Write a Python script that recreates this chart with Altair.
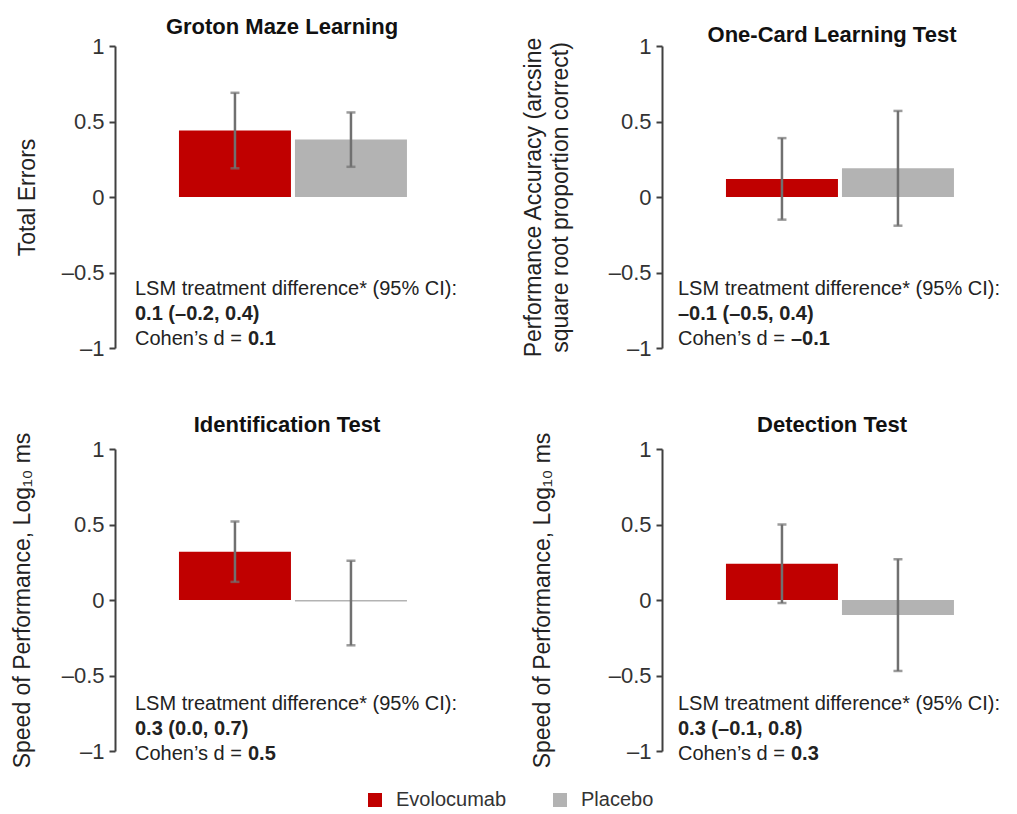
import altair as alt
import pandas as pd

FONT = "Liberation Sans"

# ---- data ----
panel_titles = ["Groton Maze Learning", "One-Card Learning Test",
                "Identification Test", "Detection Test"]
y_titles = ["Total Errors",
            ["Performance Accuracy (arcsine", "square root proportion correct)"],
            "Speed of Performance, Log\u2081\u2080 ms",
            "Speed of Performance, Log\u2081\u2080 ms"]
groups = ["Evolocumab", "Placebo"]
evo_mean = [0.44, 0.12, 0.32, 0.24]
evo_lo = [0.19, -0.15, 0.12, -0.02]
evo_hi = [0.69, 0.39, 0.52, 0.50]
pla_mean = [0.38, 0.19, -0.01, -0.10]
pla_lo = [0.20, -0.19, -0.30, -0.47]
pla_hi = [0.56, 0.57, 0.26, 0.27]
lsm_header = "LSM treatment difference* (95% CI):"
lsm_values = ["0.1 (\u20130.2, 0.4)", "\u20130.1 (\u20130.5, 0.4)",
              "0.3 (0.0, 0.7)", "0.3 (\u20130.1, 0.8)"]
cohen_label = "Cohen\u2019s d = "
cohen_values = ["0.1", "\u20130.1", "0.5", "0.3"]
y_ticks = [-1, -0.5, 0, 0.5, 1]

# ---- layout / style ----
W, H = 310, 302
title_x = [-76, -117, -81, -108]
head_y = [-12, -4, -17, -17]
head_x = [167, 170, 172, 170]
text_x = [20, 16, 20, 16]
text_y = [243, 243, 255, 255]
LINE = 25
colors = ["#C00000", "#B3B3B3"]
err_color = "#707070"
TXT = "#222222"


def panel(i):
    df = pd.DataFrame({
        "group": groups,
        "mean": [evo_mean[i], pla_mean[i]],
        "lo": [evo_lo[i], pla_lo[i]],
        "hi": [evo_hi[i], pla_hi[i]],
    })
    x = alt.X("group:N", axis=None, sort=groups,
              scale=alt.Scale(domain=groups, paddingInner=0.0345,
                              paddingOuter=0.3535, align=0.78))
    yscale = alt.Scale(domain=[-1, 1], nice=False, zero=False)
    yaxis = alt.Axis(
        values=y_ticks, title=y_titles[i], grid=False,
        labelExpr="datum.value < 0 ? '\u2013' + format(-datum.value, '~g') : format(datum.value, '~g')",
        labelFont=FONT, labelFontSize=22, labelColor="#333333", labelPadding=5,
        tickSize=6, tickWidth=2, tickColor="#404040",
        domainColor="#404040", domainWidth=2,
        titleFont=FONT, titleFontSize=23, titleFontWeight="normal", titleColor=TXT,
        titleLineHeight=27,
        titleX=title_x[i], titleBaseline="bottom", titleAlign="center", titleAngle=270,
    )
    bars = alt.Chart(df).mark_bar().encode(
        x=x,
        y=alt.Y("mean:Q", scale=yscale, axis=yaxis),
        color=alt.Color("group:N",
                        scale=alt.Scale(domain=groups, range=colors),
                        legend=alt.Legend(
                            orient="none", legendX=250, legendY=744, padding=0,
                            direction="horizontal", title=None,
                            symbolType="square", symbolSize=196,
                            symbolStrokeWidth=0, labelFont=FONT,
                            labelFontSize=20, labelColor="#333333",
                            labelOffset=11, columnPadding=43)),
    )
    rules = alt.Chart(df).mark_rule(color=err_color, strokeWidth=2.5).encode(
        x=x, y=alt.Y("lo:Q", scale=yscale, axis=yaxis), y2="hi:Q")
    cap_lo = alt.Chart(df).mark_tick(color=err_color, thickness=2.5, size=9).encode(
        x=x, y=alt.Y("lo:Q", scale=yscale, axis=yaxis))
    cap_hi = alt.Chart(df).mark_tick(color=err_color, thickness=2.5, size=9).encode(
        x=x, y=alt.Y("hi:Q", scale=yscale, axis=yaxis))

    def txt(s, px, py, bold=False, size=20, align="left", baseline="middle", color=TXT):
        return alt.Chart(pd.DataFrame({"t": [s]})).mark_text(
            align=align, baseline=baseline, font=FONT, fontSize=size, color=color,
            fontWeight="bold" if bold else "normal",
        ).encode(x=alt.value(px), y=alt.value(py), text="t:N")

    head = txt(panel_titles[i], head_x[i], head_y[i], bold=True, size=22,
               align="center", baseline="alphabetic", color="#111111")
    t1 = txt(lsm_header, text_x[i], text_y[i])
    t2 = txt(lsm_values[i], text_x[i], text_y[i] + LINE, bold=True)
    t3 = txt(cohen_label, text_x[i], text_y[i] + 2 * LINE)
    t4 = txt(cohen_values[i], text_x[i] + 113, text_y[i] + 2 * LINE, bold=True)

    return alt.layer(bars, rules, cap_lo, cap_hi, head, t1, t2, t3, t4).properties(
        width=W, height=H)


chart = alt.concat(
    *[panel(i) for i in range(4)], columns=2,
    spacing={"row": 101, "column": 237}, bounds="flush",
).properties(
    padding={"left": 2, "top": 8, "right": 0, "bottom": 0}
).configure(font=FONT).configure_view(strokeWidth=0, stroke="transparent")

chart.save("out.html", embed_options={"renderer": "svg", "actions": False})
